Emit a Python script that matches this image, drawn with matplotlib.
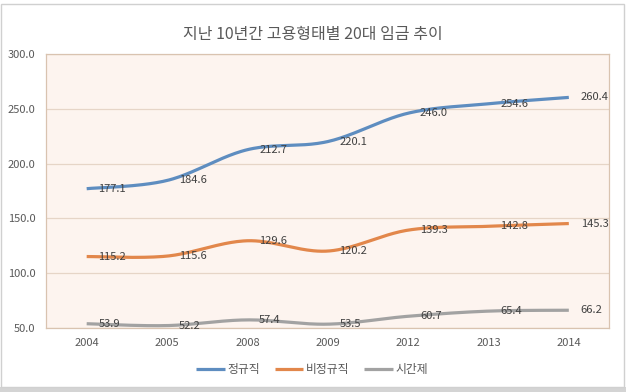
import numpy as np
import matplotlib
matplotlib.use("Agg")
import matplotlib.pyplot as plt
from matplotlib.patches import Rectangle

plt.rcParams['font.family'] = ['Noto Sans CJK KR', 'DejaVu Sans']

title = "지난 10년간 고용형태별 20대 임금 추이"
years = ["2004", "2005", "2008", "2009", "2012", "2013", "2014"]
regular = [177.1, 184.6, 212.7, 220.1, 246.0, 254.6, 260.4]
nonregular = [115.2, 115.6, 129.6, 120.2, 139.3, 142.8, 145.3]
parttime = [53.9, 52.2, 57.4, 53.5, 60.7, 65.4, 66.2]
series_names = ["정규직", "비정규직", "시간제"]
colors = ["#5E8DC0", "#E2874B", "#A2A2A2"]


def smooth(xs, ys, n=40):
    xs = np.asarray(xs, float)
    ys = np.asarray(ys, float)
    P = np.column_stack([xs, ys])
    out = []
    for i in range(len(P) - 1):
        p0 = P[i - 1] if i > 0 else P[i]
        p1 = P[i]
        p2 = P[i + 1]
        p3 = P[i + 2] if i + 2 < len(P) else P[i + 1]
        c1 = p1 + (p2 - p0) / 6.0
        c2 = p2 - (p3 - p1) / 6.0
        t = np.linspace(0, 1, n)[:, None]
        b = ((1 - t) ** 3) * p1 + 3 * ((1 - t) ** 2) * t * c1 + 3 * (1 - t) * t ** 2 * c2 + t ** 3 * p2
        out.append(b if i == 0 else b[1:])
    out = np.vstack(out)
    return out[:, 0], out[:, 1]


W, H = 626, 392
fig = plt.figure(figsize=(W / 100, H / 100), dpi=100, facecolor="white")

# chart area frame and spreadsheet strip
fig.patches.append(Rectangle((0, 0), 1, 5 / H, transform=fig.transFigure,
                             facecolor="#D4D4D4", edgecolor="none", zorder=-2))
fig.patches.append(Rectangle((0.5 / W, 5 / H), 623.5 / W, 383 / H, transform=fig.transFigure,
                             facecolor="white", edgecolor="#D0D0D0", linewidth=1, zorder=-1))

left, right, top, bottom = 46.5, 609, 54, 328
ax = fig.add_axes([left / W, 1 - bottom / H, (right - left) / W, (bottom - top) / H])
ax.set_zorder(2)
ax.set_facecolor("#FDF4EF")

x = np.arange(len(years))
for vals, name, c in zip([regular, nonregular, parttime], series_names, colors):
    sx, sy = smooth(x, vals)
    ax.plot(sx, sy, color=c, linewidth=2.3, solid_capstyle="butt", label=name, zorder=3)
    for xi, v in zip(x, vals):
        ax.annotate(f"{v:.1f}", (xi, v), xytext=(8.5, 0), textcoords="offset points",
                    ha="left", va="center", fontsize=8, color="#404040", zorder=4)

ax.set_xlim(-0.5, len(years) - 0.5)
ax.set_ylim(50, 300)
ax.set_yticks(np.arange(50, 301, 50))
ax.set_yticklabels([f"{v:.1f}" for v in np.arange(50, 301, 50)])
ax.set_xticks(x)
ax.set_xticklabels(years)
ax.tick_params(axis="both", length=0, labelsize=8, labelcolor="#595959")
ax.tick_params(axis="y", pad=8)
ax.tick_params(axis="x", pad=7)
ax.grid(axis="y", color="#E6D5C7", linewidth=0.9)
ax.set_axisbelow(True)
for s in ax.spines.values():
    s.set_color("#D9C3B0")
    s.set_linewidth(0.9)

fig.text(0.5, 1 - 35 / H, title, ha="center", va="center", fontsize=11.5, color="#595959")

fig.legend(loc="center", bbox_to_anchor=(312 / W, 1 - 370 / H), ncol=3, frameon=False,
           fontsize=8.5, handlelength=2.4, handletextpad=0.2, columnspacing=1.3,
           labelcolor="#595959")

fig.savefig("out.png", dpi=100, facecolor=fig.get_facecolor())
